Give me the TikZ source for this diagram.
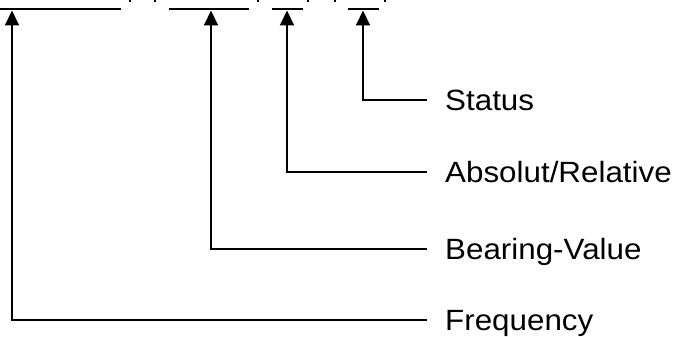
\documentclass[tikz,border=0pt]{standalone}
\usepackage{fontspec}
\setmainfont{Liberation Sans}[FakeStretch=1.07]
\usetikzlibrary{arrows.meta}
\begin{document}
\begin{tikzpicture}[x=1pt,y=-1pt,
  conn/.style={line width=2pt,-{Triangle[width=14pt,length=15pt]}},
  field/.style={line width=2.2pt},
  lbl/.style={anchor=base west,inner sep=0pt,font=\fontsize{29.3}{32}\selectfont},
  tick/.style={fill=black}]
\useasboundingbox (0,0) rectangle (677,337);
% underlined fields at top
\coordinate (f1a) at (0,9);   \coordinate (f1b) at (121,9);
\coordinate (f2a) at (169,9); \coordinate (f2b) at (249,9);
\coordinate (f3a) at (272,9); \coordinate (f3b) at (303,9);
\coordinate (f4a) at (348,9); \coordinate (f4b) at (379,9);
\draw[field] (f1a) -- (f1b);
\draw[field] (f2a) -- (f2b);
\draw[field] (f3a) -- (f3b);
\draw[field] (f4a) -- (f4b);
% cut-off separator marks
\foreach \xx in {130,155,258,308,335,385}
  \fill[tick] (\xx-1,0) rectangle (\xx+1,2);
% labels
\node[lbl] (st) at (445,110.5) {Status};
\node[lbl] (ab) at (445,182.5) {Absolut/Relative};
\node[lbl] (be) at (445,259.5) {Bearing-Value};
\node[lbl] (fr) at (445,330.5) {Frequency};
% connector ends
\coordinate (stE) at (427,100); \coordinate (stT) at (363,10.5);
\coordinate (abE) at (427,172); \coordinate (abT) at (287,10.5);
\coordinate (beE) at (427,249); \coordinate (beT) at (211,10.5);
\coordinate (frE) at (427,320); \coordinate (frT) at (12,10.5);
\draw[conn] (stE) -| (stT);
\draw[conn] (abE) -| (abT);
\draw[conn] (beE) -| (beT);
\draw[conn] (frE) -| (frT);
\end{tikzpicture}
\end{document}
